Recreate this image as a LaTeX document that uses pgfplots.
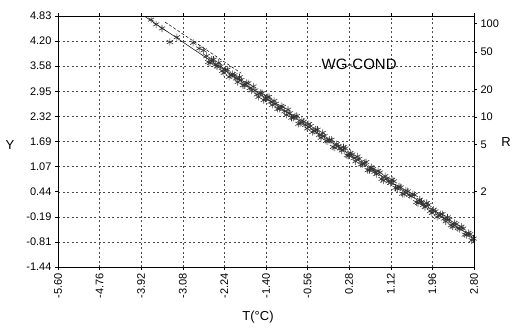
\documentclass[border=0pt]{standalone}
\usepackage{fontspec}
\setmainfont{Liberation Sans}
\usepackage{pgfplots}
\pgfplotsset{compat=1.18}
\pgfplotstableread{
x y
-3.72 4.74
-3.62 4.62
-3.50 4.52
-3.34 4.18
-3.20 4.30
-2.87 4.16
-2.75 4.02
-2.66 3.97
-2.60 3.83
-2.53 3.66
-2.46 3.74
-2.39 3.57
-2.32 3.57
-2.25 3.41
-2.18 3.49
-2.11 3.35
-2.04 3.35
-1.97 3.18
-1.90 3.23
-1.83 3.10
-1.76 3.15
-1.69 2.97
-1.62 2.97
-1.55 2.81
-1.48 2.90
-1.41 2.77
-1.34 2.81
-1.27 2.61
-1.20 2.64
-1.13 2.51
-1.06 2.56
-0.99 2.36
-0.92 2.40
-0.85 2.29
-0.78 2.33
-0.71 2.15
-0.64 2.19
-0.57 2.02
-0.50 2.08
-0.43 1.96
-0.36 1.99
-0.29 1.79
-0.22 1.83
-0.15 1.70
-0.08 1.74
-0.01 1.54
0.06 1.58
0.13 1.47
0.20 1.52
0.27 1.34
0.34 1.37
0.41 1.20
0.48 1.26
0.55 1.13
0.62 1.18
0.69 0.98
0.76 1.01
0.83 0.88
0.90 0.92
0.97 0.72
1.04 0.77
1.11 0.66
1.18 0.70
1.25 0.52
1.32 0.55
1.39 0.38
1.46 0.45
1.53 0.33
1.60 0.36
1.67 0.16
1.74 0.19
1.81 0.06
1.88 0.11
1.95 -0.09
2.02 -0.05
2.09 -0.16
2.16 -0.12
2.23 -0.30
2.30 -0.26
2.37 -0.43
2.44 -0.37
2.51 -0.49
2.58 -0.48
2.65 -0.64
2.72 -0.62
2.79 -0.73
}\datatable
\pgfplotstableread{
x y
-2.565 3.68
-2.495 3.74
-2.425 3.61
-2.355 3.66
-2.285 3.46
-2.215 3.49
-2.145 3.31
-2.075 3.38
-2.005 3.27
-1.935 3.30
-1.865 3.10
-1.795 3.16
-1.725 3.03
-1.655 3.07
-1.585 2.87
-1.515 2.91
-1.445 2.73
-1.375 2.80
-1.305 2.69
-1.235 2.71
-1.165 2.51
-1.095 2.58
-1.025 2.45
-0.955 2.49
-0.885 2.29
-0.815 2.32
-0.745 2.14
-0.675 2.22
-0.605 2.11
-0.535 2.13
-0.465 1.93
-0.395 1.99
-0.325 1.86
-0.255 1.91
-0.185 1.71
-0.115 1.74
-0.045 1.56
0.025 1.63
0.095 1.52
0.165 1.55
0.235 1.35
0.305 1.41
0.375 1.28
0.445 1.32
0.515 1.12
0.585 1.16
0.655 0.98
0.725 1.05
0.795 0.94
0.865 0.96
0.935 0.76
1.005 0.83
1.075 0.70
1.145 0.74
1.215 0.54
1.285 0.57
1.355 0.39
1.425 0.47
1.495 0.36
1.565 0.38
1.635 0.18
1.705 0.24
1.775 0.11
1.845 0.16
1.915 -0.04
1.985 -0.01
2.055 -0.19
2.125 -0.12
2.195 -0.23
2.265 -0.20
2.335 -0.40
2.405 -0.34
2.475 -0.47
2.545 -0.43
2.615 -0.63
2.685 -0.59
2.755 -0.77
}\datatableB
\begin{document}
\begin{tikzpicture}
\useasboundingbox (-58pt,-63pt) rectangle (460pt,267pt);
\begin{axis}[
  at={(0,0)}, anchor=south west,
  scale only axis, width=416pt, height=251pt,
  xmin=-5.6, xmax=2.8, ymin=-1.44, ymax=4.83,
  xtick={-5.60,-4.76,-3.92,-3.08,-2.24,-1.40,-0.56,0.28,1.12,1.96,2.80},
  xticklabels={-5.60,-4.76,-3.92,-3.08,-2.24,-1.40,-0.56,0.28,1.12,1.96,2.80},
  ytick={-1.44,-0.813,-0.186,0.441,1.068,1.695,2.322,2.949,3.576,4.203,4.83},
  yticklabels={-1.44,-0.81,-0.19,0.44,1.07,1.69,2.32,2.95,3.58,4.20,4.83},
  grid=major,
  grid style={black!70, dash pattern=on 2pt off 2.5pt, line width=0.4pt},
  axis line style={black, line width=0.6pt},
  tick align=outside, major tick length=3pt,
  tick style={black, line width=0.5pt},
  xticklabel style={rotate=90, anchor=east, font=\fontsize{11}{11}\selectfont},
  yticklabel style={font=\fontsize{11}{11}\selectfont},
  axis y line*=left,
]
\addplot[black, line width=0.5pt] coordinates {(-3.86,4.83) (2.80,-0.72)};
\addplot[black, densely dashed, line width=0.5pt] coordinates {(-3.44,4.68) (-1.90,3.40)};
\addplot[only marks, mark=asterisk, mark size=3.6pt, black!80, mark options={line width=0.6pt}] table {\datatable};
\addplot[only marks, mark=asterisk, mark size=3.6pt, black!80, mark options={line width=0.6pt}] table {\datatableB};
\node[font=\fontsize{15}{15}\selectfont] at (axis cs:0.48,3.62) {WG-COND};
\draw[black, line width=1.3pt] (rel axis cs:0,1) -- (rel axis cs:1,1);
\end{axis}
\begin{axis}[
  at={(0,0)}, anchor=south west,
  scale only axis, width=416pt, height=251pt,
  xmin=-5.6, xmax=2.8, ymin=-1.44, ymax=4.83,
  axis x line=none, axis y line*=right,
  ytick={0.45,1.62,2.31,3.0,3.93,4.64},
  yticklabels={2,5,10,20,50,100},
  axis line style={black, line width=0.6pt},
  tick align=outside, major tick length=3pt,
  tick style={black, line width=0.5pt},
  yticklabel style={font=\fontsize{11}{11}\selectfont},
]
\end{axis}
\node[font=\fontsize{13}{13}\selectfont] at (-48pt,122pt) {Y};
\node[font=\fontsize{13}{13}\selectfont] at (448pt,125pt) {R};
\node[font=\fontsize{13}{13}\selectfont] at (200pt,-50pt) {T(°C)};
\end{tikzpicture}
\end{document}
